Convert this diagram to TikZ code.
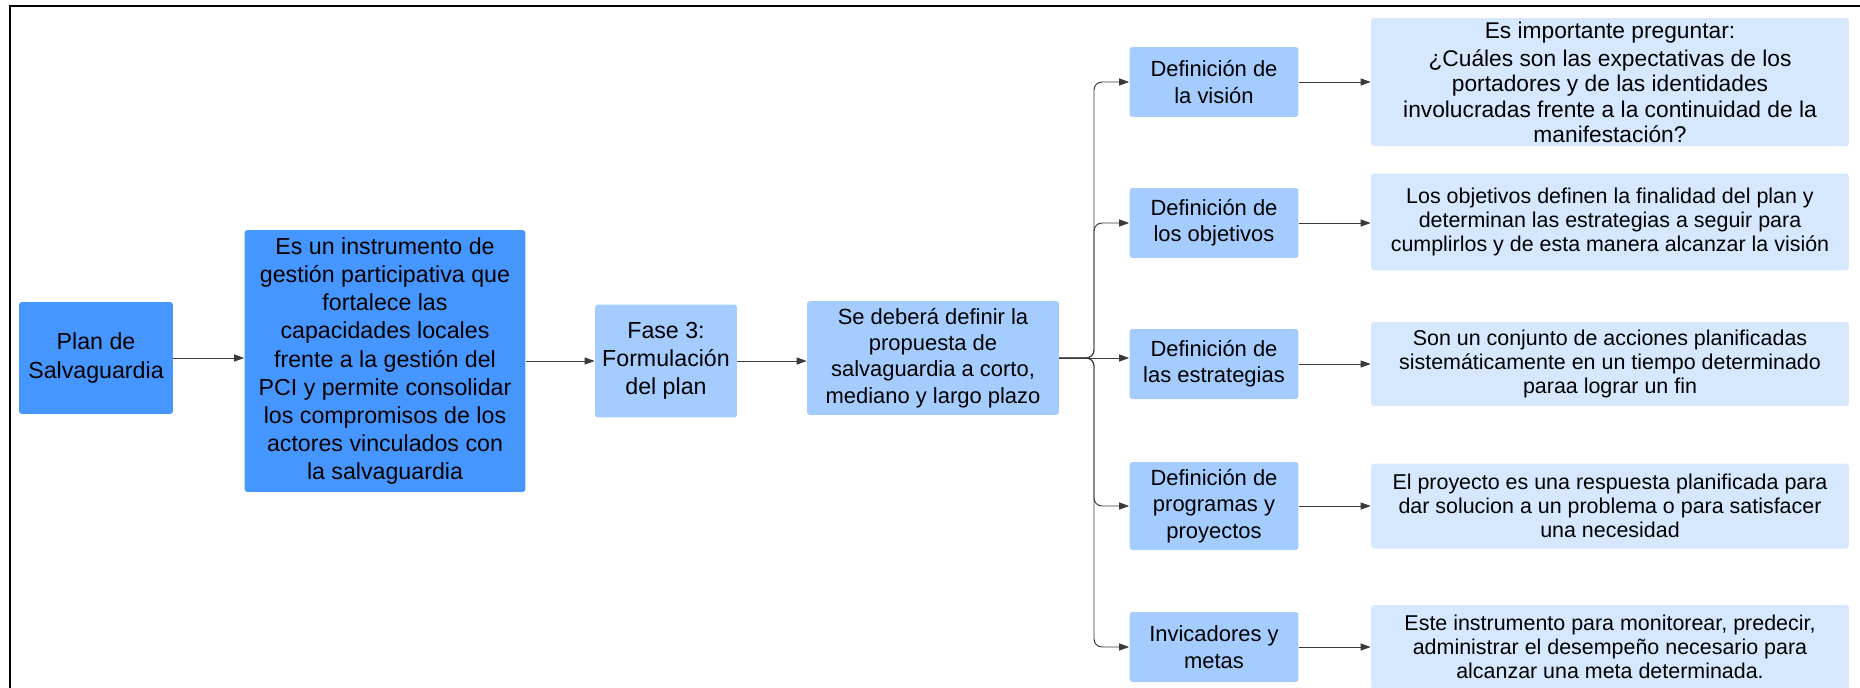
\documentclass[tikz,border=0pt]{standalone}
\usepackage{fontspec}
\setmainfont{Liberation Sans}
\usetikzlibrary{arrows.meta}

\definecolor{darkblue}{HTML}{4596FF}
\definecolor{midblue}{HTML}{A4CCFF}
\definecolor{paleblue}{HTML}{D6E8FF}
\definecolor{lineg}{HTML}{3A3A3A}

\tikzset{
    box/.style={rounded corners=0.06cm, inner sep=0pt, align=center, text=black},
    mainbox/.style={box, fill=darkblue, font=\fontsize{13.2}{16}\selectfont},
    phasebox/.style={box, fill=midblue, font=\fontsize{13.2}{16}\selectfont},
    stagebox/.style={box, fill=midblue, font=\fontsize{12.5}{15}\selectfont,
        minimum width=3.38cm, minimum height=1.4cm},
    notebox/.style={box, fill=paleblue, font=\fontsize{12.2}{13.8}\selectfont,
        minimum width=9.56cm},
    arr/.style={-{Triangle[length=0.2cm,width=0.14cm]}, draw=lineg, line width=0.55pt},
}

\begin{document}
\begin{tikzpicture}[x=0.02cm, y=-0.02cm]
    \clip (0,0) rectangle (1860,687);
    \useasboundingbox (0,0) rectangle (1860,687);

    % Frame
    \draw[line width=1.2pt] (10,6) rectangle (1900,740);

    % Main flow
    \node[mainbox, minimum width=3.08cm, minimum height=2.24cm] (plan) at (96,358) {Plan de\\Salvaguardia};
    \node[mainbox, minimum width=5.62cm, minimum height=5.24cm] (inst) at (385,361)
        {Es un instrumento de\\gestión participativa que\\fortalece las\\capacidades locales\\frente a la gestión del\\PCI y permite consolidar\\los compromisos de los\\actores vinculados con\\la salvaguardia};
    \node[phasebox, minimum width=2.84cm, minimum height=2.26cm] (fase) at (666,361) {Fase 3:\\Formulación\\del plan};
    \node[phasebox, font=\fontsize{12.5}{15}\selectfont, minimum width=5.04cm, minimum height=2.28cm] (prop) at (933,358)
        {Se deberá definir la\\propuesta de\\salvaguardia a corto,\\mediano y largo plazo};

    % Stages
    \node[stagebox] (vision) at (1214,82) {Definición de\\la visión};
    \node[stagebox] (objet) at (1214,223) {Definición de\\los objetivos};
    \node[stagebox] (estrat) at (1214,364) {Definición de\\las estrategias};
    \node[stagebox, minimum height=1.76cm] (progr) at (1214,506) {Definición de\\programas y\\proyectos};
    \node[stagebox] (metas) at (1214,647) {Invicadores y\\metas};

    % Notes
    \node[notebox, font=\fontsize{12.95}{14.3}\selectfont, minimum height=2.56cm] (nvision) at (1610,82)
        {Es importante preguntar:\\[2pt]¿Cuáles son las expectativas de los\\portadores y de las identidades\\involucradas frente a la continuidad de la\\manifestación?};
    \node[notebox, minimum height=1.94cm] (nobjet) at (1610,222)
        {Los objetivos definen la finalidad del plan y\\determinan las estrategias a seguir para\\cumplirlos y de esta manera alcanzar la visión};
    \node[notebox, minimum height=1.68cm] (nestrat) at (1610,364)
        {Son un conjunto de acciones planificadas\\sistemáticamente en un tiempo determinado\\paraa lograr un fin};
    \node[notebox, minimum height=1.7cm] (nprogr) at (1610,506)
        {El proyecto es una respuesta planificada para\\dar solucion a un problema o para satisfacer\\una necesidad};
    \node[notebox, minimum height=1.68cm] (nmetas) at (1610,647)
        {Este instrumento para monitorear, predecir,\\administrar el desempeño necesario para\\alcanzar una meta determinada.};

    % Connectors
    \draw[arr] (plan.east) -- (plan.east -| inst.west);
    \draw[arr] (inst.east) -- (inst.east -| fase.west);
    \draw[arr] (fase.east) -- (fase.east -| prop.west);

    \coordinate (trunk) at (1094,358);
    \foreach \s in {vision,objet,progr,metas}
        \draw[arr, rounded corners=0.16cm] (prop.east) -- (trunk) -- (trunk |- \s.west) -- (\s.west);
    \draw[arr] (prop.east) -- (trunk -| estrat.west);

    \foreach \s in {vision,objet,estrat,progr,metas}
        \draw[arr] (\s.east) -- (\s.east -| n\s.west);
\end{tikzpicture}
\end{document}
